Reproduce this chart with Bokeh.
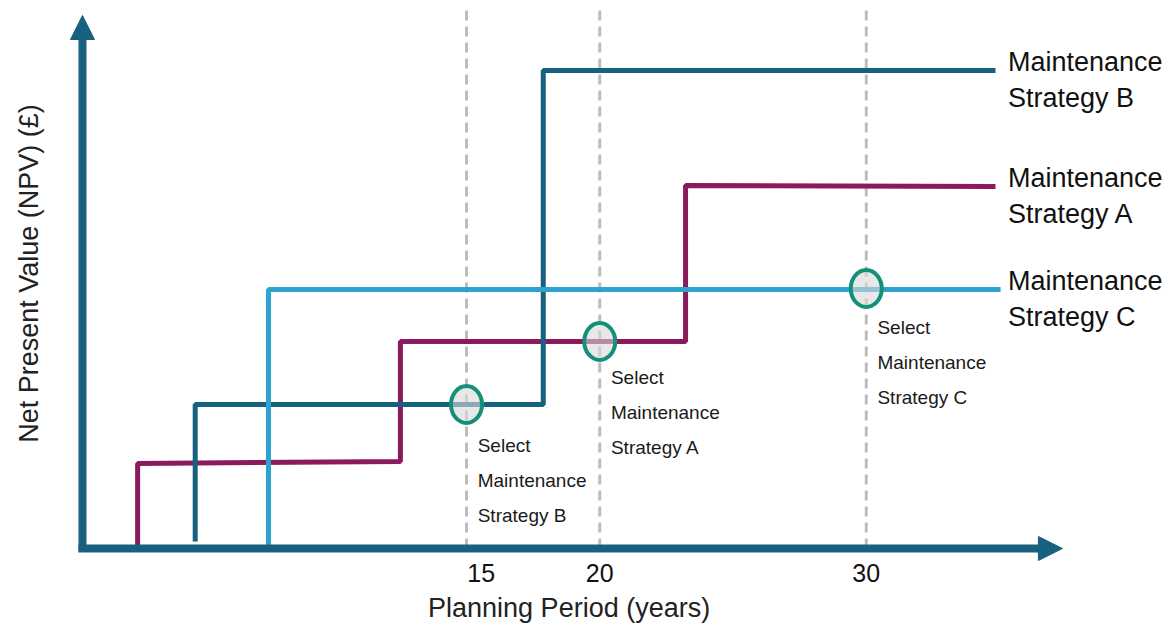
from bokeh.plotting import figure
from bokeh.models import Range1d, Arrow, NormalHead
from bokeh.core.properties import value
from bokeh.embed import file_html
from bokeh.resources import INLINE
import math

# ---- data (years, NPV in arbitrary units) ----
b_years = [4.82, 4.82, 17.88, 17.88, 34.85]
b_npv = [7, 144, 144, 478, 478]
a_years = [2.66, 2.66, 12.52, 12.52, 23.22, 23.22, 34.85]
a_npv = [0, 85, 87, 207, 207, 363, 362]
c_years = [7.57, 7.57, 35.04]
c_npv = [0, 259, 259]

decision_years = [15, 20, 30]
decision_npv = [144, 207, 260]
decision_labels = ["Strategy B", "Strategy A", "Strategy C"]
tick_labels = ["15", "20", "30"]
tick_pos = [15.55, 20, 30]
series_names = ["Maintenance\nStrategy B", "Maintenance\nStrategy A", "Maintenance\nStrategy C"]
series_end_npv = [478, 362, 259]

COL_B = "#17607F"
COL_A = "#8A1A5B"
COL_C = "#2EA3CF"
COL_AX = "#17607F"
COL_RING = "#14907A"
FONT = "Liberation Sans"

PX_PER_YEAR = 26.65
X0 = -66.25 / PX_PER_YEAR
p = figure(width=1169, height=625, x_range=Range1d(X0, X0 + 1169 / PX_PER_YEAR),
           y_range=Range1d(-77, 548), x_axis_type=None, y_axis_type=None,
           toolbar_location=None, output_backend="svg", min_border=0)
p.grid.visible = False
p.outline_line_color = None
p.background_fill_color = "white"

# dashed decision lines
p.segment(x0=decision_years, y0=[0] * 3, x1=decision_years, y1=[543] * 3,
          line_color="#BDBDBD", line_width=3, line_dash="10 6")

# step lines
p.line(a_years, a_npv, line_color=COL_A, line_width=5)
p.line(b_years, b_npv, line_color=COL_B, line_width=5)
p.line(c_years, c_npv, line_color=COL_C, line_width=5)

# axes with arrows
ax_x = 0.59
p.segment(x0=[ax_x - 0.15], y0=[0], x1=[37.36 - 22 / PX_PER_YEAR], y1=[0], line_color=COL_AX, line_width=8)
p.segment(x0=[ax_x], y0=[-3], x1=[ax_x], y1=[533 - 22], line_color=COL_AX, line_width=8)
p.add_layout(Arrow(end=NormalHead(size=24, fill_color=COL_AX, line_color=COL_AX, line_width=1),
                   x_start=36, y_start=0, x_end=37.36, y_end=0, line_width=0, line_alpha=0))
p.add_layout(Arrow(end=NormalHead(size=24, fill_color=COL_AX, line_color=COL_AX, line_width=1),
                   x_start=ax_x, y_start=500, x_end=ax_x, y_end=533, line_width=0, line_alpha=0))

# decision circles
p.ellipse(x=decision_years, y=decision_npv, width=31, height=37, width_units="screen",
          height_units="screen", fill_color="#D9D9D9", fill_alpha=0.6,
          line_color=COL_RING, line_width=4)

# annotation texts
label_x = [y + 0.42 for y in decision_years]
label_top = [103, 171, 221]
for lx, ly, lab in zip(label_x, label_top, decision_labels):
    p.text(x=[lx] * 3, y=[ly, ly - 35, ly - 70], text=["Select", "Maintenance", lab],
           text_font=value(FONT), text_font_size="19px", text_color="#1a1a1a",
           text_baseline="middle", text_align="left")

# series labels on the right
for ny, name in zip(series_end_npv, series_names):
    l1, l2 = name.split("\n")
    p.text(x=[35.32] * 2, y=[ny + 9, ny - 27], text=[l1, l2],
           text_font=value(FONT), text_font_size="27px", text_color="#111111",
           text_baseline="middle", text_align="left")

# tick labels
p.text(x=tick_pos, y=[-24] * 3, text=tick_labels, text_font=value(FONT),
       text_font_size="25px", text_color="#111111", text_baseline="middle", text_align="center")

# axis titles
p.text(x=[18.85], y=[-59], text=["Planning Period (years)"], text_font=value(FONT),
       text_font_size="27px", text_color="#222222", text_baseline="middle", text_align="center")
p.text(x=[(28 - 66.25) / PX_PER_YEAR], y=[548 - 273], text=["Net Present Value (NPV) (£)"],
       angle=math.pi / 2, text_font=value(FONT), text_font_size="27px", text_color="#222222",
       text_baseline="middle", text_align="center")

open("out.html", "w").write(file_html(p, INLINE))
